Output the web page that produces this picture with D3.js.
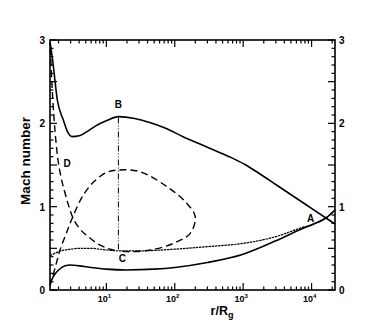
<!DOCTYPE html>
<html>
<head>
<meta charset="UTF-8">
<script src="https://d3js.org/d3.v7.min.js"></script>
<style>
  body { margin: 0; background: #fff; }
  svg { display: block; font-family: "Liberation Sans", Arial, sans-serif; font-weight: bold; }
</style>
</head>
<body>
<svg width="382" height="327"></svg>
<script>
// curves: [r/Rg, Mach]
const upperSolid = [[1.5,2.98],[1.66,2.72],[1.92,2.28],[2.35,2.04],[2.7,1.9],[3.15,1.84],[4,1.85],[5.2,1.9],[7,1.97],[10,2.03],[15,2.08],[26,2.058],[43,2.01],[72,1.944],[132,1.84],[234,1.752],[387,1.674],[641,1.596],[1063,1.506],[1761,1.392],[2918,1.272],[4834,1.152],[8010,1.032],[16240,0.864],[22000,0.792]];
const lowerSolid = [[1.5,0.08],[1.7,0.17],[2,0.24],[2.5,0.29],[3,0.3],[4,0.29],[6,0.27],[10,0.25],[20,0.24],[50,0.25],[100,0.27],[300,0.33],[1000,0.43],[3000,0.59],[7000,0.73],[10600,0.79],[16600,0.87],[22000,0.96]];
const thinLine = [[1.5,0.41],[2,0.46],[3,0.49],[4,0.5],[6,0.5],[10,0.48],[15,0.47],[30,0.47],[100,0.49],[300,0.52],[1000,0.56],[3000,0.64],[7000,0.745],[10600,0.79],[16600,0.87],[22000,0.96]];
const dashedD = [[1.515,2.904],[1.604,2.46],[1.716,2.064],[1.836,1.776],[1.963,1.56],[2.172,1.356],[2.486,1.164],[3.21,0.876],[4.12,0.732],[5.445,0.64],[6.82,0.576],[9.02,0.52],[11.3,0.49],[14.95,0.468]];
const dashedLoop = [[1.5,0.05],[1.8,0.28],[2.1,0.48],[2.6,0.68],[3.2,0.87],[4.6,1.14],[6.8,1.31],[10,1.41],[15,1.44],[31,1.42],[77,1.24],[150,1.04],[199,0.88],[168,0.68],[96,0.56],[44,0.48],[20,0.46],[15,0.47]];
const sonicBC = [[15,2.07],[15,0.47]];
const pointLabels = [["A",16000,0.87,-15,0],["B",15,2.08,0,-12.5],["C",15,0.47,4,7.5],["D",1.5,1.53,17,0]];
const xTickExps = [1,2,3,4];
const yTickLabels = [0,1,2,3];

const svg = d3.select("svg");
const mLeft = 50, mRight = 335, mTop = 40, mBottom = 290;
const x = d3.scaleLog().domain([1.5, 22000]).range([mLeft, mRight]);
const y = d3.scaleLinear().domain([0, 3]).range([mBottom, mTop]);

const line = d3.line().x(d => x(d[0])).y(d => y(d[1])).curve(d3.curveMonotoneX);
const loopLine = d3.line().x(d => x(d[0])).y(d => y(d[1])).curve(d3.curveCatmullRom.alpha(0.5));

const g = svg.append("g");
function draw(gen, data, width, dash) {
  g.append("path").attr("d", gen(data)).attr("fill", "none")
    .attr("stroke", "#000").attr("stroke-width", width)
    .attr("stroke-dasharray", dash || null);
}
draw(line, upperSolid, 1.6);
draw(line, lowerSolid, 1.6);
draw(line, thinLine, 1.2, "2.5,0.7");
draw(line, dashedD, 1.4, "7,4");
draw(loopLine, dashedLoop, 1.4, "7,4");
draw(d3.line().x(d => x(d[0])).y(d => y(d[1])), sonicBC, 1, "6,2,1,2,1,2");

// ticks (inward, all four sides)
const minorX = [];
for (let e = 0; e <= 4; e++) for (let k = 1; k <= 9; k++) {
  const v = k * Math.pow(10, e);
  if (v >= 1.5 && v <= 22000) minorX.push(v);
}
const ax = svg.append("g").attr("stroke", "#000");
minorX.forEach(v => {
  const major = Number.isInteger(Math.log10(v)) && Math.log10(v) >= 1;
  const len = major ? 7 : 3.5;
  ax.append("line").attr("x1", x(v)).attr("x2", x(v)).attr("y1", mBottom).attr("y2", mBottom - len).attr("stroke-width", 1.2);
  ax.append("line").attr("x1", x(v)).attr("x2", x(v)).attr("y1", mTop).attr("y2", mTop + len).attr("stroke-width", 1.2);
});
d3.range(0, 31).forEach(i => {
  const v = i / 10;
  const len = i % 5 === 0 ? 7 : 3.5;
  ax.append("line").attr("x1", mLeft).attr("x2", mLeft + len).attr("y1", y(v)).attr("y2", y(v)).attr("stroke-width", 1.2);
  ax.append("line").attr("x1", mRight).attr("x2", mRight - len).attr("y1", y(v)).attr("y2", y(v)).attr("stroke-width", 1.2);
});
svg.append("rect").attr("x", mLeft).attr("y", mTop).attr("width", mRight - mLeft).attr("height", mBottom - mTop)
  .attr("fill", "none").attr("stroke", "#000").attr("stroke-width", 1.6);

// tick labels
yTickLabels.forEach(v => {
  svg.append("text").attr("x", mLeft - 5).attr("y", y(v) + 4).attr("text-anchor", "end").attr("font-size", 10).text(v);
  svg.append("text").attr("x", mRight + 4).attr("y", y(v) + 4).attr("text-anchor", "start").attr("font-size", 10).text(v);
});
xTickExps.forEach(e => {
  const t = svg.append("text").attr("x", x(Math.pow(10, e)) - 2).attr("y", mBottom + 12).attr("text-anchor", "middle").attr("font-size", 9);
  t.append("tspan").text("10");
  t.append("tspan").attr("dy", -4).attr("font-size", 6).text(e);
});

// axis titles
const xt = svg.append("text").attr("x", 222).attr("y", 315).attr("text-anchor", "middle").attr("font-size", 12.5);
xt.append("tspan").text("r/R");
xt.append("tspan").attr("dy", 3).attr("font-size", 9).text("g");
svg.append("text").attr("transform", `translate(30,161) rotate(-90)`).attr("text-anchor", "middle")
  .attr("font-size", 13.5).text("Mach number");

// point labels
pointLabels.forEach(([t, r, m, dx, dy]) => {
  svg.append("text").attr("x", x(r) + dx).attr("y", y(m) + dy + 4).attr("text-anchor", "middle")
    .attr("font-size", 10).text(t);
});
</script>
</body>
</html>
